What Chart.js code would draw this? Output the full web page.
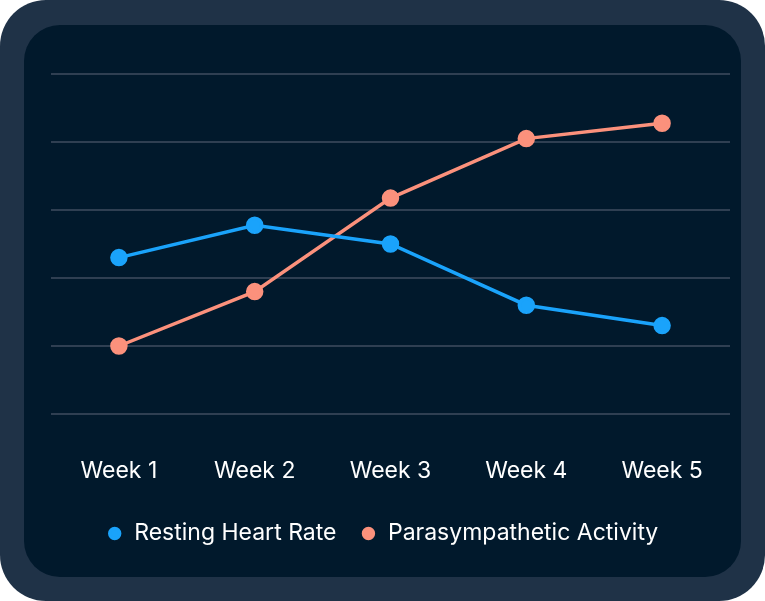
<!DOCTYPE html>
<html><head><meta charset="utf-8">
<script src="https://cdn.jsdelivr.net/npm/chart.js@4/dist/chart.umd.min.js"></script>
<style>
html,body{margin:0;padding:0;background:#ffffff;}
#outer{position:absolute;left:0;top:0;width:765px;height:601px;border-radius:46px;background:#1f3247;}
#inner{position:absolute;left:24px;top:25px;width:717px;height:552px;border-radius:36px;background:#01192c;overflow:hidden;}
#wrap{position:absolute;left:0;top:0;width:717px;height:552px;}
</style></head>
<body>
<div id="outer"><div id="inner"><div id="wrap"><canvas id="c"></canvas></div></div></div>
<script>
const categories = ["Week 1","Week 2","Week 3","Week 4","Week 5"];
const restingHeartRate = [46, 55.5, 50, 32, 26];
const parasympatheticActivity = [20, 36, 63.5, 81, 85.5];
const seriesNames = ["Resting Heart Rate","Parasympathetic Activity"];
const colors = ["#1aa3fb","#fb917c"];

Chart.defaults.font.family = "Inter, 'Open Sans', sans-serif";
new Chart(document.getElementById('c'), {
  type: 'line',
  data: {
    labels: categories,
    datasets: [
      {label: seriesNames[0], data: restingHeartRate, borderColor: colors[0], backgroundColor: colors[0], borderWidth: 3.5, pointRadius: 7, pointHoverRadius: 7, tension: 0},
      {label: seriesNames[1], data: parasympatheticActivity, borderColor: colors[1], backgroundColor: colors[1], borderWidth: 3.5, pointRadius: 7, pointHoverRadius: 7, tension: 0}
    ]
  },
  options: {
    responsive: true, maintainAspectRatio: false, animation: false,
    layout: {padding: {left: 4, right: 4, top: 49, bottom: 22}},
    scales: {
      x: {offset: true, grid: {display: false, drawTicks: false}, border: {display: false},
          ticks: {color: '#ffffff', font: {size: 23}, padding: 43},
          afterFit: (s) => { s.height = 84; s.paddingRight = 11; s.paddingLeft = 0; }},
      y: {min: 0, max: 100, ticks: {display: false, stepSize: 20},
          grid: {color: '#2f3f52', lineWidth: 2, drawTicks: false}, border: {display: false},
          afterFit: (s) => { s.width = 23; }}
    },
    plugins: {
      legend: {position: 'bottom', labels: {color: '#ffffff', font: {size: 23}, usePointStyle: true, pointStyle: 'circle', boxWidth: 16, boxHeight: 7, padding: 24}},
      tooltip: {enabled: false}
    }
  }
});
</script>
</body></html>
